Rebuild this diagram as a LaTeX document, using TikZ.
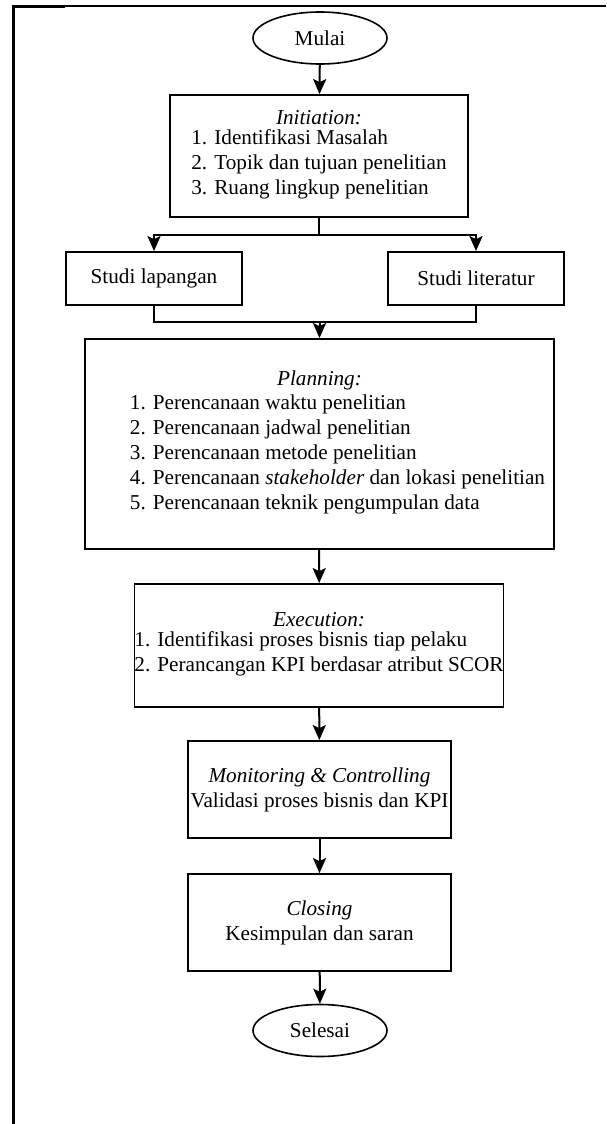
\documentclass[tikz,border=0pt]{standalone}
\usepackage{fontspec}
\setmainfont{Liberation Serif}
\usetikzlibrary{arrows.meta,shapes.geometric}

\begin{document}
\begin{tikzpicture}[x=0.5pt, y=-0.5pt,
    font=\fontsize{10.6}{12.5}\selectfont,
    terminal/.style={draw, ellipse, line width=0.8pt, inner sep=0pt, minimum width=67pt, minimum height=26pt},
    stepbox/.style={draw, rectangle, line width=0.9pt, inner sep=0pt, align=center},
    arr/.style={line width=1pt, -{Stealth[length=7.5pt, width=6.5pt, inset=1.5pt]}},
    link/.style={line width=0.9pt}]
% Set the page frame
\useasboundingbox (0,0) rectangle (606,1124);
\draw[line width=1.5pt] (13,1124) -- (13,6) -- (65,6);
\draw[line width=0.6pt] (65,6) -- (565,6);
\draw[line width=1.2pt] (565,6) -- (606,6);

% Draw the boxes
\node[terminal] (mulai) at (320,38) {Mulai};
\node[stepbox, minimum width=149pt, minimum height=61pt] (init) at (319,156)
  {\textit{Initiation:}\\
   \begin{tabular}{@{}l@{}}
   1. Identifikasi Masalah\\
   2. Topik dan tujuan penelitian\\
   3. Ruang lingkup penelitian
   \end{tabular}};
\node[stepbox, minimum width=88pt, minimum height=26.5pt] (lapangan) at (154,278.5) {Studi lapangan};
\node[stepbox, minimum width=88pt, minimum height=26.5pt] (literatur) at (476,278.5) {Studi literatur};
\node[stepbox, minimum width=234.5pt, minimum height=105pt] (planning) at (319.5,444)
  {\textit{Planning:}\\
   \hspace*{18pt}\begin{tabular}{@{}l@{}}
   1. Perencanaan waktu penelitian\\
   2. Perencanaan jadwal penelitian\\
   3. Perencanaan metode penelitian\\
   4. Perencanaan \textit{stakeholder} dan lokasi penelitian\\
   5. Perencanaan teknik pengumpulan data
   \end{tabular}};
\node[stepbox, minimum width=184pt, minimum height=61.5pt] (execution) at (319,645.5)
  {\textit{Execution:}\\
   \begin{tabular}{@{}l@{}}
   1. Identifikasi proses bisnis tiap pelaku\\
   2. Perancangan KPI berdasar atribut SCOR
   \end{tabular}};
\node[stepbox, minimum width=131.5pt, minimum height=48.5pt] (monitoring) at (319.5,789.5)
  {\textit{Monitoring \& Controlling}\\ Validasi proses bisnis dan KPI};
\node[stepbox, minimum width=131.5pt, minimum height=48.5pt] (closing) at (319.5,922.5)
  {\textit{Closing}\\ Kesimpulan dan saran};
\node[terminal] (selesai) at (320,1030.5) {Selesai};

% Connect the boxes
\coordinate (fork) at (319,235);
\coordinate (join) at (319.5,322);
\draw[arr] (mulai) -- (init);
\draw[link] (init.south) -- (fork);
\draw[arr] (fork) -| (lapangan.north);
\draw[arr] (fork) -| (literatur.north);
\draw[link] (lapangan.south) |- (join) -| (literatur.south);
\draw[arr] (join) -- (planning.north);
\draw[arr] (planning) -- (execution);
\draw[arr] (execution) -- (monitoring);
\draw[arr] (monitoring) -- (closing);
\draw[arr] (closing) -- (selesai);
\end{tikzpicture}
\end{document}
